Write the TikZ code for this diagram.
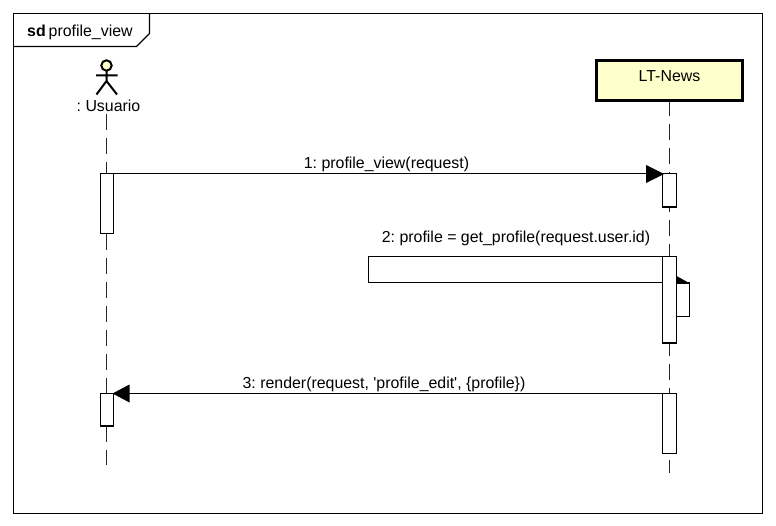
\documentclass[tikz,border=0pt]{standalone}
\usepackage{fontspec}
\setmainfont{Liberation Sans}
\newfontfamily\plainsans{Liberation Sans}
\definecolor{paleyellow}{HTML}{FFFFCC}
\tikzset{
  x=1pt,y=-1pt,
  frameline/.style={draw=black,line width=1.2pt},
  lifeline/.style={draw=black!85,line width=1.2pt,dash pattern=on 16pt off 8pt},
  activation/.style={draw=black,fill=white,line width=1.2pt,outer sep=0pt,inner sep=0pt,anchor=north west},
  msg/.style={draw=black,line width=1.2pt},
  label/.style={font=\plainsans\fontsize{15.9}{18}\selectfont,text=black,inner sep=0pt},
}
\begin{document}
\frenchspacing
\begin{tikzpicture}
\useasboundingbox (0,0) rectangle (776,526);
\fill[white] (0,0) rectangle (776,526);
% frame
\draw[frameline] (13.5,13.5) rectangle (762.5,513.5);
\draw[frameline] (13.5,46.5) -- (136.5,46.5) -- (149.5,33.5) -- (149.5,13.5);
\node[label,anchor=base west] (sd) at (27,37) {\textbf{sd}};
\node[label,anchor=base west] (sdname) at (48.5,37) {profile\_view};
% actor
\draw[line width=2pt,fill=paleyellow] (106.5,65.5) circle (5.2);
\draw[line width=2pt] (106.5,71) -- (106.5,81) (96,75.5) -- (117.5,75.5) (96.5,94.5) -- (106.5,81) -- (117,94.5);
\node[label,anchor=base] (user) at (108.5,111.5) {: Usuario};
% lifelines
\coordinate (u0) at (106.5,114);
\coordinate (u1) at (106.5,465);
\coordinate (l0) at (669.5,100);
\coordinate (l1) at (669.5,473);
\draw[lifeline] (u0) -- (u1);
\draw[lifeline] (l0) -- (l1);
% LT-News
\node[draw=black,line width=3pt,fill=paleyellow,minimum width=146pt,minimum height=40pt,inner sep=0pt,outer sep=0pt,anchor=north west] (news) at (596.5,60.5) {};
\node[label,anchor=base] (newstext) at (669.5,82) {LT-News};
% activations
\node[activation,minimum width=13pt,minimum height=60pt] (a1) at (100.5,173.5) {};
\node[activation,minimum width=13pt,minimum height=32.5pt] (a2) at (100.5,393.5) {};
\node[activation,minimum width=14pt,minimum height=33.5pt] (b1) at (662.5,173.5) {};
\node[activation,minimum width=14pt,minimum height=60pt] (b3) at (662.5,393.5) {};
% self call
\draw[draw=black,fill=white,line width=1.2pt] (676.5,283) rectangle (689.5,316.5);
\node[activation,minimum width=14pt,minimum height=86.5pt] (b2) at (662.5,256.5) {};
\fill[black] (676.5,276) -- (690,283.5) -- (676.5,283.5) -- cycle;
% message 1
\draw[msg] (a1.north east) -- (648,173.5);
\fill[black] (646,165) -- (664,174) -- (646,183) -- cycle;
\node[label,anchor=base] (m1) at (386.5,168.5) {1: profile\_view(request)};
% message 2
\draw[msg] (b2.north west) -- (368.5,256.5) -- (368.5,282.5) -- (662.5,282.5);
\node[label,anchor=base] (m2) at (516,243) {2: profile = get\_profile(request.user.id)};
% message 3
\draw[msg] (b3.north west) -- (128,393.5);
\fill[black] (129.5,384.5) -- (112.5,393.5) -- (129.5,402.5) -- cycle;
\node[label,anchor=base] (m3) at (384,388.5) {3: render(request, 'profile\_edit', \{profile\})};
\end{tikzpicture}
\end{document}
